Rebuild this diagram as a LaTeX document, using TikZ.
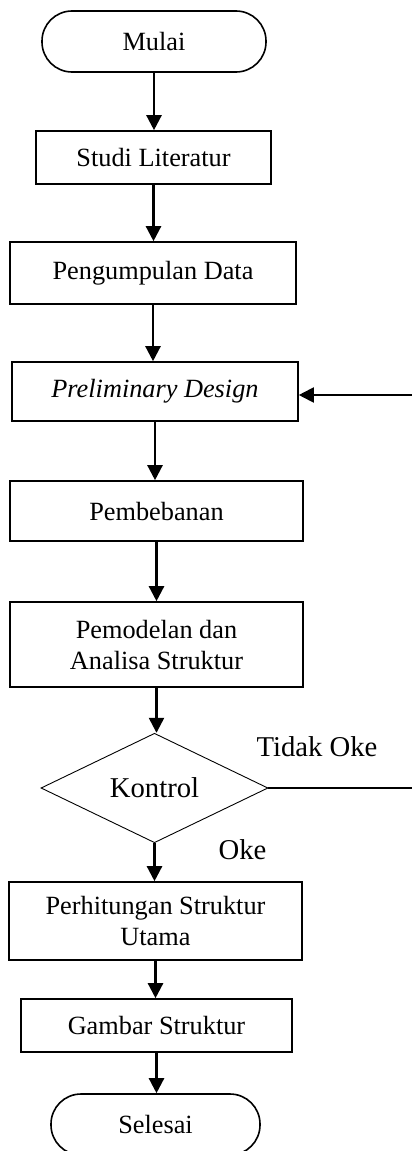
\documentclass[tikz,border=0pt]{standalone}
\usepackage{fontspec}
\setmainfont{Liberation Serif}
\usetikzlibrary{shapes.geometric,arrows.meta}
\tikzset{
  boxtext/.style={font=\fontsize{26.3}{31}\selectfont, align=center},
  procbox/.style={draw, line width=1.6pt, rectangle, inner sep=0pt, boxtext},
  termbox/.style={draw, line width=1.6pt, rectangle, rounded corners=30pt, inner sep=0pt, boxtext},
  decbox/.style={draw, line width=0.9pt, diamond, inner sep=0pt, font=\fontsize{28.7}{33}\selectfont},
  flow/.style={line width=2.4pt, -{Triangle[length=15pt,width=15pt]}},
  plainline/.style={line width=1.4pt},
  lbl/.style={font=\fontsize{28.7}{33}\selectfont, anchor=base, inner sep=0pt}
}
\begin{document}
\begin{tikzpicture}[x=1pt,y=-1pt]
\useasboundingbox (0,0) rectangle (412,1151);
\clip (0,0) rectangle (412,1151);
\node[termbox, minimum width=224pt, minimum height=61pt] (mulai) at (154,41.5) {Mulai};
\node[procbox, minimum width=235pt, minimum height=53pt] (studi) at (153.5,157.5) {Studi Literatur};
\node[procbox, minimum width=286pt, minimum height=62pt] (data) at (153,273) {Pengumpulan Data};
\node[procbox, minimum width=286pt, minimum height=59pt] (prelim) at (155,391.5) {\textit{Preliminary Design}};
\node[procbox, minimum width=293pt, minimum height=60pt] (beban) at (156.5,511) {Pembebanan};
\node[procbox, minimum width=293pt, minimum height=85pt] (model) at (156.5,644.5) {Pemodelan dan\\Analisa Struktur};
\node[decbox, minimum width=227pt, minimum height=84pt] (kontrol) at (154.5,788) {Kontrol};
\node[procbox, minimum width=293pt, minimum height=78pt] (hitung) at (155.5,921) {Perhitungan Struktur\\Utama};
\node[procbox, minimum width=271pt, minimum height=53pt] (gambar) at (156.5,1025.5) {Gambar Struktur};
\node[termbox, minimum width=209pt, minimum height=61pt] (selesai) at (155.5,1124.5) {Selesai};

\node[lbl] (tidak) at (317,756) {Tidak Oke};
\node[lbl] (oke) at (242.5,859) {Oke};

\coordinate (fbin) at (412,395);
\coordinate (fbout) at (412,788);

\draw[flow] (mulai.south) -- (mulai.south |- studi.north);
\draw[flow] (studi.south) -- (studi.south |- data.north);
\draw[flow] (data.south) -- (data.south |- prelim.north);
\draw[flow] (prelim.south) -- (prelim.south |- beban.north);
\draw[flow] (beban.south) -- (beban.south |- model.north);
\draw[flow] (model.south) -- (model.south |- kontrol.north);
\draw[flow] (kontrol.south) -- (kontrol.south |- hitung.north);
\draw[flow] (hitung.south) -- (hitung.south |- gambar.north);
\draw[flow] (gambar.south) -- (gambar.south |- selesai.north);
\draw[plainline] (kontrol.east) -- (kontrol.east -| fbout);
\draw[flow, line width=2pt] (fbin) -- (fbin -| prelim.east);
\end{tikzpicture}
\end{document}
